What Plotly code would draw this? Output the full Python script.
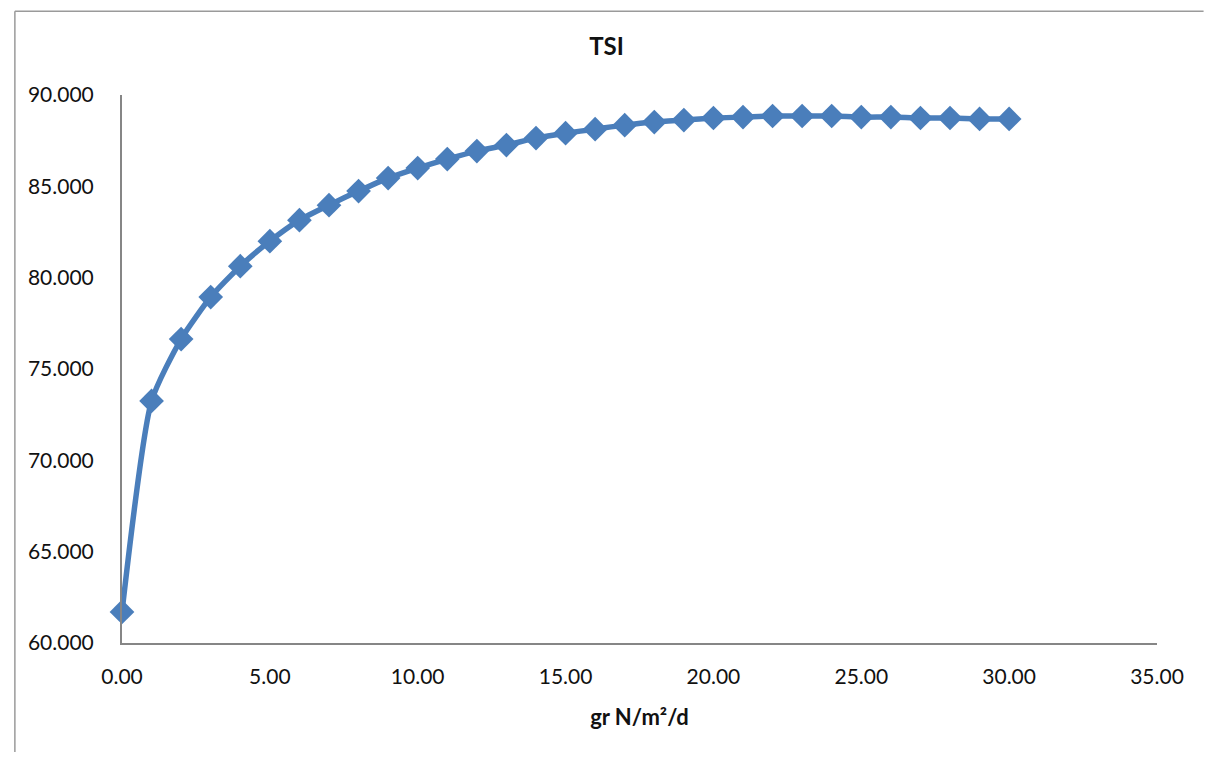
import plotly.graph_objects as go

x_vals = list(range(0, 31))
tsi = [61.70, 73.25, 76.64, 78.94, 80.63, 82.00, 83.15, 83.97, 84.74, 85.45,
       86.00, 86.49, 86.93, 87.26, 87.64, 87.91, 88.13, 88.35, 88.52, 88.63,
       88.74, 88.79, 88.85, 88.85, 88.85, 88.79, 88.79, 88.74, 88.74, 88.69, 88.69]
x_ticks = [0, 5, 10, 15, 20, 25, 30, 35]
y_ticks = [60, 65, 70, 75, 80, 85, 90]

FONT = "Lato"
W, H = 1197, 744
fig = go.Figure()
fig.add_trace(go.Scatter(
    x=x_vals, y=tsi, mode="lines+markers", cliponaxis=False,
    line=dict(color="#4A7EBB", width=5.5, shape="spline", smoothing=0.6),
    marker=dict(symbol="diamond", size=19, color="#4A7EBB"),
    showlegend=False,
))

fig.update_layout(
    width=W, height=H,
    margin=dict(l=114, r=48, t=87, b=109),
    paper_bgcolor="white", plot_bgcolor="white",
    font=dict(family=FONT, color="#111111", size=21),
    title=dict(text="<b>TSI</b>", x=0.5, xanchor="center", y=1 - 39 / H, yanchor="middle",
               font=dict(family=FONT, size=24, color="#111111")),
    xaxis=dict(range=[0, 35], tickvals=x_ticks, tickformat=".2f",
               showgrid=False, zeroline=False, showline=True, linecolor="#868686", linewidth=2,
               ticks="outside", ticklen=14, tickcolor="rgba(0,0,0,0)", tickfont=dict(size=21),
               title=dict(text="<b>gr N/m²/d</b>", standoff=22, font=dict(size=22))),
    yaxis=dict(range=[60, 90], tickvals=y_ticks, tickformat=".3f",
               showgrid=False, zeroline=False, showline=True, linecolor="#868686", linewidth=2,
               ticks="outside", ticklen=22, tickcolor="rgba(0,0,0,0)", tickfont=dict(size=21)),
    shapes=[
        dict(type="line", xref="paper", yref="paper", x0=-0.1035, x1=-0.1035, y0=-0.2, y1=1.153,
             line=dict(color="#9a9a9a", width=1.5)),
        dict(type="line", xref="paper", yref="paper", x0=-0.1035, x1=1.045, y0=1.153, y1=1.153,
             line=dict(color="#9a9a9a", width=1.5)),
    ],
)

fig.write_html("out.html")
